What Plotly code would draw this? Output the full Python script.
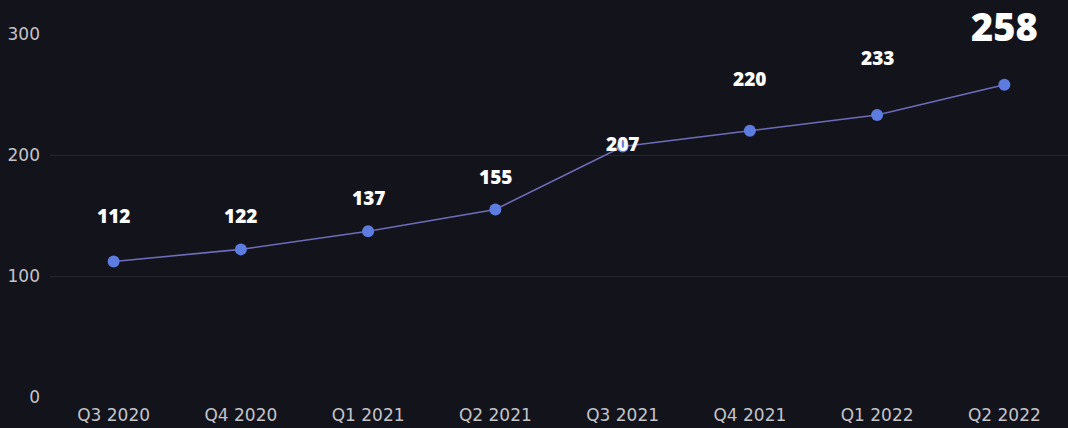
import plotly.graph_objects as go

quarters = ["Q3 2020", "Q4 2020", "Q1 2021", "Q2 2021", "Q3 2021", "Q4 2021", "Q1 2022", "Q2 2022"]
values = [112, 122, 137, 155, 207, 220, 233, 258]
y_ticks = [0, 100, 200, 300]

# label styling (pixel offsets above each point, font sizes)
label_shift = [45, 33, 33, 32, 3, 52, 57, 59]
label_size = [19, 19, 19, 19, 19, 19, 19, 38]

fig = go.Figure()
fig.add_trace(go.Scatter(
    x=quarters, y=values, mode="lines+markers",
    line=dict(color="#6f6cba", width=1.6),
    marker=dict(color="#5c7ce0", size=12),
    cliponaxis=False, hoverinfo="skip",
))

for q, v, s, fs in zip(quarters, values, label_shift, label_size):
    fig.add_annotation(x=q, y=v, text=str(v), showarrow=False,
                       yshift=s, yanchor="middle",
                       font=dict(family="Open Sans, sans-serif", size=fs, color="#ffffff", weight=800))

tickfont = dict(family="DejaVu Sans, sans-serif", size=17, color="#c4c4c8")
fig.update_layout(
    width=1068, height=428,
    margin=dict(l=50, r=0, t=34, b=31),
    paper_bgcolor="#12131b", plot_bgcolor="#12131b",
    showlegend=False,
    xaxis=dict(type="category", range=[-0.5, 7.5], showgrid=False, zeroline=False,
               showline=False, ticks="", ticklabelstandoff=6, tickfont=tickfont),
    yaxis=dict(range=[0, 300], tickvals=y_ticks, showgrid=True, gridcolor="#26272d",
               gridwidth=1, zeroline=False, showline=False, ticks="",
               ticklabelstandoff=9, tickfont=tickfont),
)

fig.write_html("out.html", config={"displayModeBar": False},
               post_script="document.body.style.margin='0';document.body.style.background='#12131b';")
